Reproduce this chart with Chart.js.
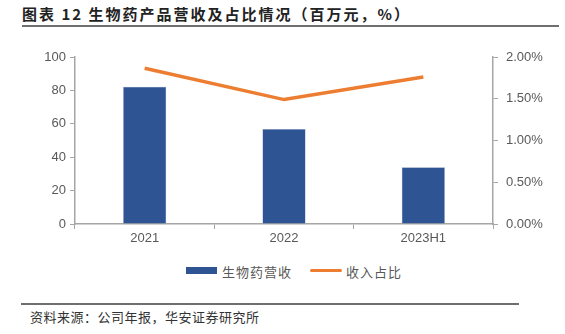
<!DOCTYPE html>
<html>
<head>
<meta charset="utf-8">
<script src="https://cdn.jsdelivr.net/npm/chart.js@4"></script>
<style>
    body { margin: 0; background: #fff; font-family: "Noto Sans CJK SC", "Noto Sans", sans-serif; }
    #wrap { position: relative; width: 565px; height: 334px; overflow: hidden; }
    #title { position: absolute; left: 22px; top: 3px; font-size: 15px; font-weight: bold; color: #222; white-space: nowrap; letter-spacing: 2px; }
    .rule { position: absolute; height: 2px; background: #6f6f6f; }
    #chartBox { position: absolute; left: 0; top: 0; width: 565px; height: 260px; }
    .legend { position: absolute; top: 262px; font-size: 13px; color: #595959; white-space: nowrap; letter-spacing: 1px; }
    #source { position: absolute; left: 30px; top: 307px; font-size: 13px; color: #333; white-space: nowrap; letter-spacing: 0.5px; }
</style>
</head>
<body>
<div id="wrap">
    <div id="title">图表 12 生物药产品营收及占比情况（百万元，%）</div>
    <div class="rule" style="left:22px; top:25px; width:537px;"></div>
    <div id="chartBox"><canvas id="mainChart"></canvas></div>
    <div style="position:absolute; left:186px; top:267px; width:31px; height:7px; background:#2E5494;"></div>
    <div class="legend" style="left:222px;">生物药营收</div>
    <div style="position:absolute; left:310px; top:269px; width:32px; height:3px; background:#ED7D31; border-radius:2px;"></div>
    <div class="legend" style="left:346px;">收入占比</div>
    <div class="rule" style="left:21px; top:303px; width:498px;"></div>
    <div id="source">资料来源：公司年报，华安证券研究所</div>
</div>
<script>
const categories = ['2021', '2022', '2023H1'];
const revenueValues = [82.2, 56.9, 34.0];
const shareValues = [1.865, 1.49, 1.76];
const leftTicks = [0, 20, 40, 60, 80, 100];
const rightTicks = [0, 0.5, 1.0, 1.5, 2.0];

const axisColor = '#A6A6A6';
const labelColor = '#595959';

const ctx = document.getElementById('mainChart').getContext('2d');

new Chart(ctx, {
    type: 'bar',
    data: {
        labels: categories,
        datasets: [
            {
                type: 'line',
                label: '收入占比',
                data: shareValues,
                yAxisID: 'y1',
                borderColor: '#ED7D31',
                backgroundColor: '#ED7D31',
                borderWidth: 3.5,
                pointRadius: 0,
                tension: 0,
                order: 0
            },
            {
                label: '生物药营收',
                data: revenueValues,
                yAxisID: 'y',
                backgroundColor: '#2E5494',
                borderColor: '#8FA6CC',
                borderWidth: 0.5,
                barPercentage: 0.31,
                categoryPercentage: 1.0,
                order: 1
            }
        ]
    },
    options: {
        responsive: true,
        maintainAspectRatio: false,
        animation: false,
        layout: { padding: { top: 57, left: 0, right: 0, bottom: 0 } },
        plugins: {
            legend: { display: false },
            tooltip: { enabled: false }
        },
        scales: {
            x: {
                offset: true,
                grid: {
                    offset: true,
                    drawOnChartArea: false,
                    drawTicks: true,
                    tickLength: 5,
                    color: axisColor
                },
                border: { color: axisColor, width: 1.5 },
                ticks: {
                    color: labelColor,
                    font: { family: 'Liberation Sans, Arial, sans-serif', size: 13 },
                    padding: 2
                },
                afterFit: function(scale) { scale.height = 36; }
            },
            y: {
                position: 'left',
                min: 0,
                max: 100,
                afterBuildTicks: function(scale) {
                    scale.ticks = leftTicks.map(v => ({ value: v }));
                },
                grid: {
                    drawOnChartArea: false,
                    tickLength: 5,
                    color: axisColor
                },
                border: { color: axisColor, width: 1.5 },
                ticks: {
                    color: labelColor,
                    font: { family: 'Liberation Sans, Arial, sans-serif', size: 13 },
                    padding: 4
                },
                afterFit: function(scale) { scale.width = 75; }
            },
            y1: {
                position: 'right',
                min: 0,
                max: 2,
                afterBuildTicks: function(scale) {
                    scale.ticks = rightTicks.map(v => ({ value: v }));
                },
                grid: {
                    drawOnChartArea: false,
                    tickLength: 5,
                    color: axisColor
                },
                border: { color: axisColor, width: 1.5 },
                ticks: {
                    color: labelColor,
                    font: { family: 'Liberation Sans, Arial, sans-serif', size: 13 },
                    padding: 8,
                    callback: function(value) {
                        return value.toFixed(2) + '%';
                    }
                },
                afterFit: function(scale) { scale.width = 72; }
            }
        }
    }
});
</script>
</body>
</html>
